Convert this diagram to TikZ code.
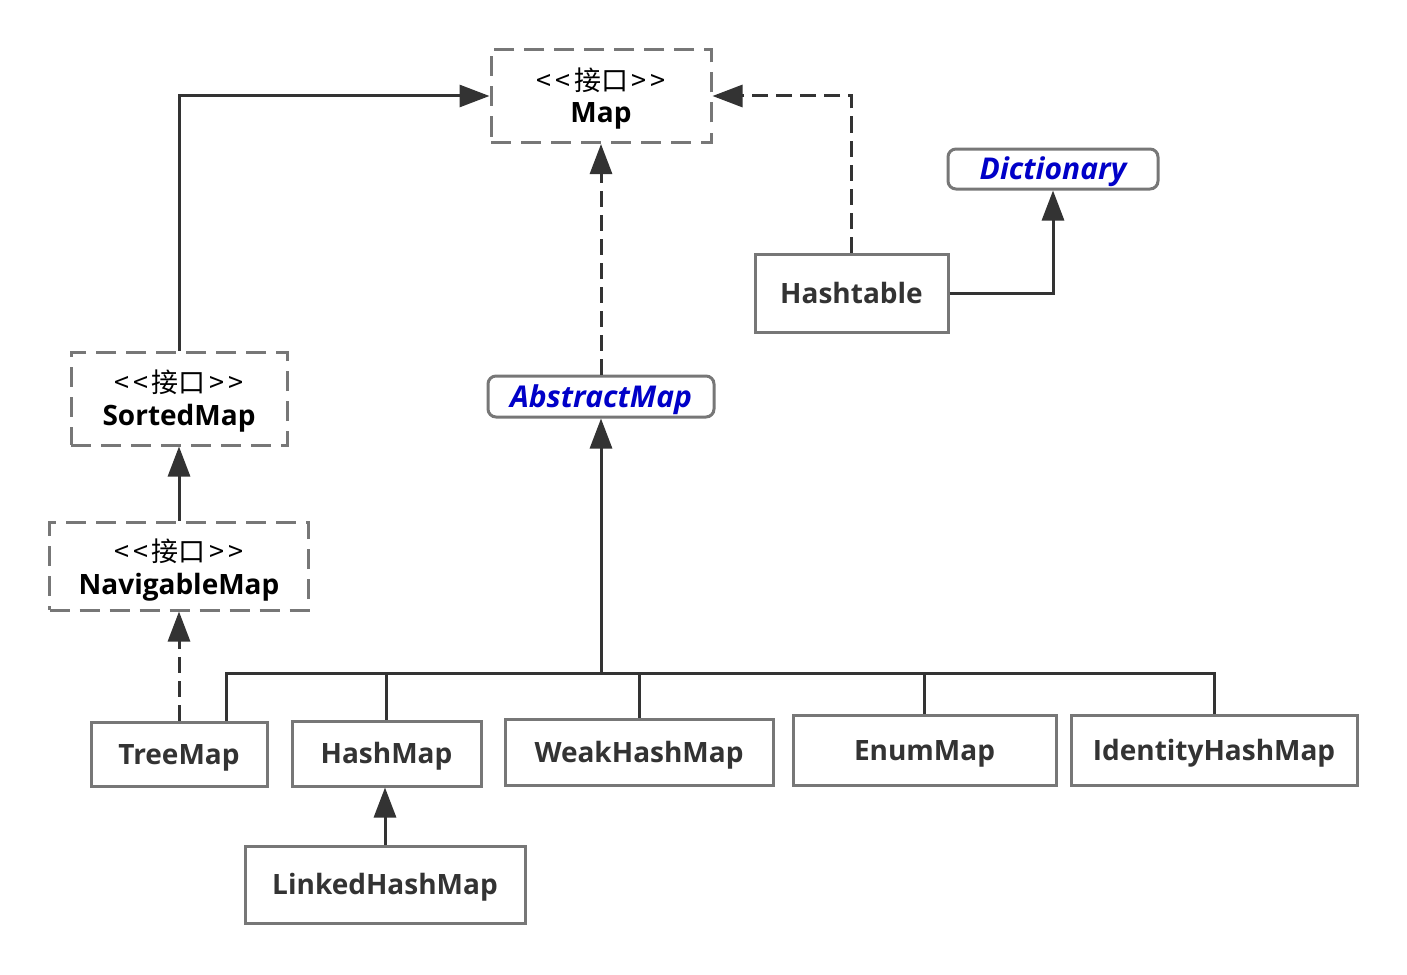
\documentclass[tikz,border=0pt]{standalone}
\usepackage{fontspec}
\setmainfont{Open Sans}
\newfontfamily\cjk{Noto Sans CJK SC}
\usetikzlibrary{arrows.meta}
\definecolor{boxgray}{HTML}{777777}
\definecolor{linedark}{HTML}{333333}
\definecolor{textdark}{HTML}{333333}
\definecolor{absblue}{HTML}{0000C8}
\tikzset{
  base/.style={draw=boxgray, line width=1.5pt, fill=white, inner sep=0pt, align=center, text height=10pt, text depth=0pt},
  iface/.style={base, dash pattern=on 10pt off 5pt},
  ifname/.style={inner sep=0pt, text=black, font=\bfseries\fontsize{14}{17}\selectfont, text height=10pt, text depth=0pt},
  ifstereo/.style={inner sep=0pt, text=black, font=\cjk\fontsize{13.5}{16}\selectfont, text height=10.3pt, text depth=0pt},
  cls/.style={base, text=textdark, font=\bfseries\fontsize{14}{17}\selectfont},
  abscls/.style={base, rounded corners=4pt, text=absblue, font=\bfseries\itshape\fontsize{15}{18}\selectfont, text height=10.7pt},
  link/.style={draw=linedark, line width=1.5pt},
  conn/.style={link, -{Triangle[length=15pt,width=11pt]}},
  dconn/.style={conn, dash pattern=on 8pt off 4pt},
}
\newcommand{\stereo}{<\kern2pt<\kern2pt接口\kern2pt>\kern2pt>}
\begin{document}
\begin{tikzpicture}[x=0.5pt,y=-0.5pt]
\useasboundingbox (0,0) rectangle (1407,974);
% interfaces
\node[iface, minimum width=110pt, minimum height=46.5pt] (map) at (601,96) {};
\node[ifstereo] (maps) at (601,80) {\stereo};
\node[ifname] (mapn) at (601,113) {Map};
\node[iface, minimum width=108pt, minimum height=46.5pt] (sm) at (179,398.5) {};
\node[ifstereo] (sms) at (179,382) {\stereo};
\node[ifname] (smn) at (179,415.5) {SortedMap};
\node[iface, minimum width=129.5pt, minimum height=44pt] (nm) at (179,566) {};
\node[ifstereo] (nms) at (179,551) {\stereo};
\node[ifname] (nmn) at (179,584.5) {NavigableMap};
% abstract classes
\node[abscls, minimum width=113pt, minimum height=20.5pt] (am) at (601,396.5) {AbstractMap};
\node[abscls, minimum width=105pt, minimum height=20pt] (dict) at (1053,169) {Dictionary};
% classes
\node[cls, minimum width=96.5pt, minimum height=39pt] (ht) at (851.5,293) {Hashtable};
\node[cls, minimum width=88pt, minimum height=32pt] (tm) at (179,754) {TreeMap};
\node[cls, minimum width=94.5pt, minimum height=32.5pt] (hm) at (386.5,753.5) {HashMap};
\node[cls, minimum width=134pt, minimum height=33pt] (wh) at (639,752) {WeakHashMap};
\node[cls, minimum width=131.5pt, minimum height=35pt] (em) at (924.5,750) {EnumMap};
\node[cls, minimum width=143pt, minimum height=35pt] (ih) at (1214,750) {IdentityHashMap};
\node[cls, minimum width=140pt, minimum height=38.5pt] (lhm) at (385,884.5) {LinkedHashMap};
% bus coordinates
\coordinate (bus) at (601,673);
\coordinate (bl) at (226,673);
\coordinate (br) at (1214,673);
% connectors
\draw[conn] (sm.north) |- (map.west);
\draw[dconn] (ht.north) |- (map.east);
\draw[dconn] (am.north) -- (map.south);
\draw[conn] (ht.east) -| (dict.south);
\draw[conn] (nm.north) -- (sm.south);
\draw[dconn] (tm.north) -- (nm.south);
\draw[link] (bl |- tm.north) -- (bl) -- (br) -- (br |- ih.north);
\draw[link] (hm.north) -- (hm.north |- bus);
\draw[link] (wh.north) -- (wh.north |- bus);
\draw[link] (em.north) -- (em.north |- bus);
\draw[conn] (bus) -- (am.south);
\draw[conn] (lhm.north) -- (lhm.north |- hm.south);
\end{tikzpicture}
\end{document}
